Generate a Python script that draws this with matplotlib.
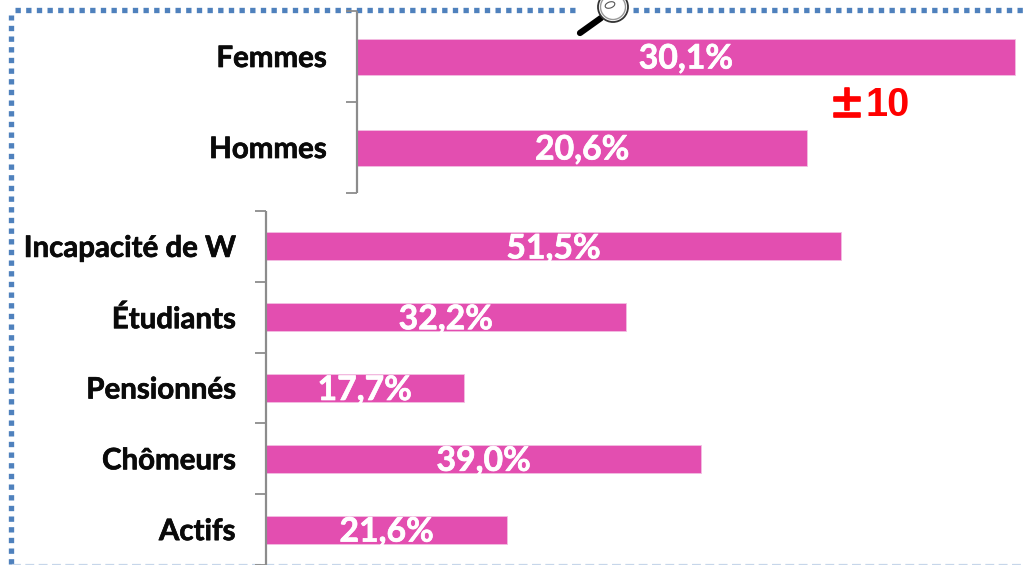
#!/usr/bin/python
import matplotlib
matplotlib.use('Agg')
import matplotlib.pyplot as plt
import matplotlib.patheffects as pe
from matplotlib.patches import Circle, Ellipse

# data
sex_labels = ['Femmes', 'Hommes']
sex_values = [30.1, 20.6]
status_labels = ['Incapacité de W', 'Étudiants', 'Pensionnés', 'Chômeurs', 'Actifs']
status_values = [51.5, 32.2, 17.7, 39.0, 21.6]

W, H = 1023., 565.
pink = '#e34eb0'
grey = '#8c8c8c'
blue = '#4f81bd'
plt.rcParams['font.family'] = ['Lato', 'DejaVu Sans']

fig = plt.figure(figsize=(W/100, H/100), dpi=100)


def pixel_axes(x0, y0, x1, y1):
    # y0,y1 are measured from the top of the picture
    return fig.add_axes([x0/W, 1-y1/H, (x1-x0)/W, (y1-y0)/H])


def barpanel(ax, labels, values, height, xmax, dy):
    pos = range(len(labels))
    ax.barh(pos, values, height=height, color=pink, edgecolor='#f3bfe2', linewidth=0.6)
    ax.set_xlim(0, xmax)
    ax.set_ylim(len(labels)-0.5, -0.5)
    ax.patch.set_alpha(0)
    for s in ['top', 'right', 'bottom']:
        ax.spines[s].set_visible(False)
    ax.spines['left'].set_color(grey)
    ax.spines['left'].set_linewidth(1.6)
    ax.spines['left'].set_capstyle('butt')
    ax.set_xticks([])
    # tick marks sit between the bars, category names stay centred on them
    ax.set_yticks([p-0.5 for p in range(len(labels)+1)])
    ax.set_yticklabels([])
    ax.tick_params(axis='y', length=8, width=1.3, color=grey)
    ax.set_yticks(list(pos), labels=labels, minor=True)
    ax.tick_params(axis='y', which='minor', length=0, pad=22.2, labelsize=21.2)
    for t in ax.get_yticklabels(minor=True):
        t.set_fontweight('bold')
        t.set_color('#0a0a0a')
        t.set_path_effects([pe.withStroke(linewidth=0.5, foreground='#0a0a0a')])
    for p, v in zip(pos, values):
        txt = ax.annotate(('%.1f%%' % v).replace('.', ','), (v/2., p), xytext=(0, -dy),
                          textcoords='offset pixels', ha='center', va='center',
                          color='white', fontweight='bold', fontsize=24.3)
        txt.set_path_effects([pe.withStroke(linewidth=0.5, foreground='white')])


# decoration layer: dotted frame, magnifying glass, +- note
bg = fig.add_axes([0, 0, 1, 1])
bg.set_xlim(0, W)
bg.set_ylim(H, 0)
bg.axis('off')
dots = dict(color=blue, linewidth=3.84, linestyle=(0, (1, 1)), dash_capstyle='butt')
bg.plot([11, 11], [564, 15], **dots)
bg.plot([15, 575], [10, 10], **dots)
bg.plot([633, 1023], [10, 10], **dots)
bg.plot([12, 1023], [564.5, 564.5], color='#c6d6ea', linewidth=1.6, linestyle=(0, (4, 2)))

bg.plot([580, 601], [33, 18], color='black', linewidth=4.5, solid_capstyle='round')
bg.add_patch(Circle((613, 7), 15, facecolor='white', edgecolor='#333333', linewidth=1.3, zorder=3))
bg.add_patch(Circle((613, 7), 12.5, facecolor='none', edgecolor='#999999', linewidth=1.0, zorder=3))
bg.add_patch(Ellipse((610, 5), 10, 6, angle=-20, facecolor='none', edgecolor='#555555', linewidth=0.8, zorder=3))

pm = bg.text(829, 107, '\u00b1', color='red', fontsize=26, fontweight='bold', family='Noto Sans CJK SC', ha='left', va='center')
pm.set_path_effects([pe.withStroke(linewidth=1.2, foreground='red')])
bg.text(866, 105, '10', color='red', fontsize=28.5, fontweight='bold', family='Liberation Sans', ha='left', va='center')

# top panel: 30.1 -> 658 px
ax1 = pixel_axes(357, 11, 1023, 193)
barpanel(ax1, sex_labels, sex_values, 36/91., 666/21.86, 2)

# bottom panel: 51.5 -> 575 px
ax2 = pixel_axes(266, 211, 1023, 565)
barpanel(ax2, status_labels, status_values, 28/70.8, 757/11.165, 2)

fig.savefig('out.png', dpi=100)
